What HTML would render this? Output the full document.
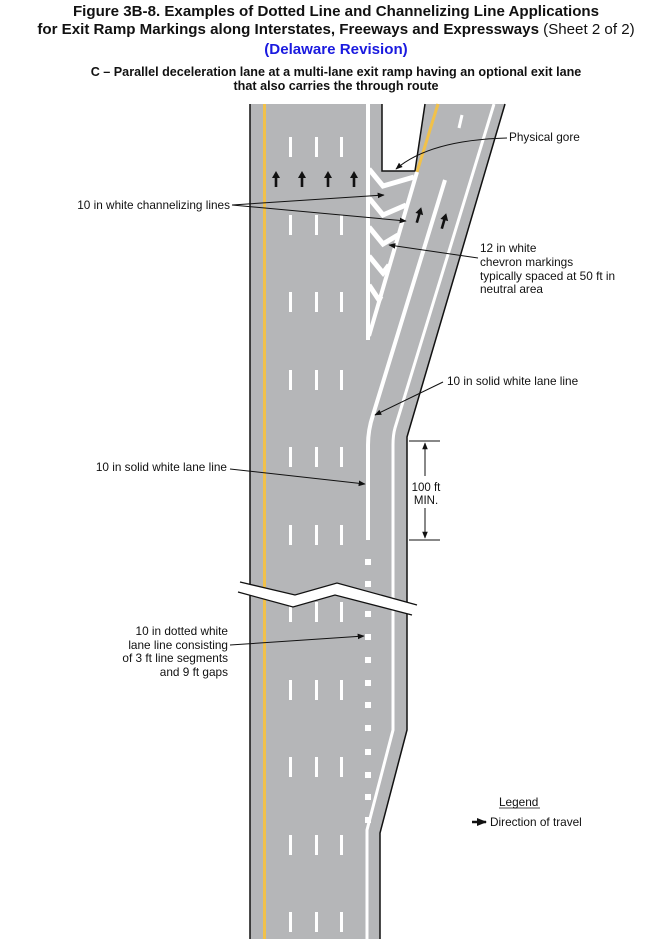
<!DOCTYPE html>
<html><head><meta charset="utf-8"><style>
html,body{margin:0;padding:0;background:#fff;}
svg{display:block;}
text{font-family:"Liberation Sans",Arial,sans-serif;fill:#111;}
</style></head><body>
<svg width="672" height="939" viewBox="0 0 672 939" xmlns="http://www.w3.org/2000/svg">
<defs>
<marker id="ah" viewBox="0 0 10 10" refX="9" refY="5" markerWidth="7" markerHeight="7" orient="auto-start-reverse"><path d="M0,1 L10,5 L0,9 z" fill="#111"/></marker>
<marker id="ah2" viewBox="0 0 10 10" refX="9" refY="5" markerWidth="4" markerHeight="4" orient="auto"><path d="M0,1 L10,5 L0,9 z" fill="#111"/></marker>
<g id="up"><rect x="-1.3" y="-3" width="2.6" height="11" fill="#111"/><path d="M-4,-1 L0,-8 L4,-1 z" fill="#111"/></g>
</defs>

<!-- titles -->
<text x="336" y="16" font-size="15.1" font-weight="bold" text-anchor="middle">Figure 3B-8.  Examples of Dotted Line and Channelizing Line Applications</text>
<text x="336" y="34" font-size="15.1" text-anchor="middle"><tspan font-weight="bold">for Exit Ramp Markings along Interstates, Freeways and Expressways</tspan> (Sheet 2 of 2)</text>
<text x="336" y="54" font-size="15.1" font-weight="bold" text-anchor="middle" style="fill:#1a1adf">(Delaware Revision)</text>
<text x="336" y="76" font-size="12.6" font-weight="bold" text-anchor="middle">C – Parallel deceleration lane at a multi-lane exit ramp having an optional exit lane</text>
<text x="336" y="90" font-size="12.6" font-weight="bold" text-anchor="middle">that also carries the through route</text>

<!-- pavement -->
<path d="M250,104 L382,104 L382,171 L415,171 L425,104 L505,104 L407,437 L407,730 L380,833 L380,939 L250,939 Z" fill="#b5b6b8"/>
<path d="M250,104 L250,939 M382,104 L382,171 L415,171 L425,104 M505,104 L407,437 L407,730 L380,833 L380,939" fill="none" stroke="#111" stroke-width="1.5"/>

<!-- yellow lines -->
<rect x="263" y="104" width="3" height="835" fill="#f1c14a"/>
<line x1="438" y1="104" x2="417" y2="172" stroke="#f1c14a" stroke-width="3"/>

<!-- main lane dashes -->
<g fill="#fff">
<g id="dr">
<rect x="289" y="137" width="3" height="20"/><rect x="315" y="137" width="3" height="20"/><rect x="340" y="137" width="3" height="20"/>
</g>
<use href="#dr" y="78"/><use href="#dr" y="155"/><use href="#dr" y="233"/><use href="#dr" y="310"/><use href="#dr" y="388"/><use href="#dr" y="465"/><use href="#dr" y="543"/><use href="#dr" y="620"/><use href="#dr" y="698"/><use href="#dr" y="775"/>
</g>

<!-- gore lines -->
<g stroke="#fff" fill="none" stroke-linejoin="miter">
<line x1="368" y1="104" x2="368" y2="340" stroke-width="4"/>
<line x1="417" y1="172" x2="369" y2="336" stroke-width="4"/>
<g stroke-width="5">
<polyline points="369,169 383,186 414,177"/>
<polyline points="369,198 383,215 406,205"/>
<polyline points="369,227 383,244 398,235"/>
<polyline points="369,256 383,273 389,265"/>
<polyline points="369,285 379,300 381,296"/>
</g>
<path d="M445,180 L373,415 Q368,430 368,445 L368,540" stroke-width="4"/>
<path d="M494,104 L395,428 Q393,435 393,445 L393,730 L367,830 L367,939" stroke-width="3"/>
<line x1="462" y1="115" x2="459" y2="128" stroke-width="3"/>
</g>

<!-- dotted line -->
<g fill="#fff">
<rect x="365" y="559" width="6" height="6"/><rect x="365" y="581" width="6" height="6"/>
<rect x="365" y="611" width="6" height="6"/><rect x="365" y="634" width="6" height="6"/><rect x="365" y="657" width="6" height="6"/><rect x="365" y="680" width="6" height="6"/><rect x="365" y="702" width="6" height="6"/><rect x="365" y="725" width="6" height="6"/><rect x="365" y="749" width="6" height="6"/><rect x="365" y="772" width="6" height="6"/><rect x="365" y="794" width="6" height="6"/><rect x="365" y="817" width="6" height="6"/>
</g>

<!-- break -->
<path d="M240,582 L295,595 L337,583 L417,605 L412,615 L335,595 L293,607 L238,592 Z" fill="#fff"/>
<polyline points="240,582 295,595 337,583 417,605" fill="none" stroke="#111" stroke-width="1.3"/>
<polyline points="238,592 293,607 335,595 412,615" fill="none" stroke="#111" stroke-width="1.3"/>

<!-- arrows -->
<use href="#up" x="276" y="179"/><use href="#up" x="302" y="179"/><use href="#up" x="328" y="179"/><use href="#up" x="354" y="179"/>
<use href="#up" transform="translate(419,215) rotate(16)"/>
<use href="#up" transform="translate(444,221) rotate(16)"/>

<!-- dimension -->
<g stroke="#111" stroke-width="1">
<line x1="409" y1="441" x2="440" y2="441"/><line x1="409" y1="540" x2="440" y2="540"/>
<line x1="425" y1="476" x2="425" y2="443" marker-end="url(#ah)"/>
<line x1="425" y1="508" x2="425" y2="538" marker-end="url(#ah)"/>
</g>
<text x="426" y="491" font-size="11.5" text-anchor="middle">100 ft</text>
<text x="426" y="504" font-size="11.5" text-anchor="middle">MIN.</text>

<!-- leaders -->
<g stroke="#111" stroke-width="1" fill="none">
<path d="M507,138 Q430,140 396,169" marker-end="url(#ah)"/>
<line x1="232" y1="205" x2="384" y2="195" marker-end="url(#ah)"/>
<line x1="232" y1="205" x2="406" y2="221" marker-end="url(#ah)"/>
<line x1="478" y1="258" x2="389" y2="245" marker-end="url(#ah)"/>
<line x1="443" y1="382" x2="375" y2="415" marker-end="url(#ah)"/>
<line x1="230" y1="469" x2="365" y2="484" marker-end="url(#ah)"/>
<line x1="230" y1="645" x2="364" y2="636" marker-end="url(#ah)"/>
<line x1="472" y1="822" x2="486" y2="822" stroke-width="2.5" marker-end="url(#ah2)"/>
</g>

<!-- labels -->
<g font-size="11.8">
<text x="509" y="141">Physical gore</text>
<text x="230" y="209" text-anchor="end">10 in white channelizing lines</text>
<text x="480" y="252">12 in white</text>
<text x="480" y="266">chevron markings</text>
<text x="480" y="280">typically spaced at 50 ft in</text>
<text x="480" y="293">neutral area</text>
<text x="447" y="385">10 in solid white lane line</text>
<text x="227" y="471" text-anchor="end">10 in solid white lane line</text>
<text x="228" y="635" text-anchor="end">10 in dotted white</text>
<text x="228" y="649" text-anchor="end">lane line consisting</text>
<text x="228" y="662" text-anchor="end">of 3 ft line segments</text>
<text x="228" y="676" text-anchor="end">and 9 ft gaps</text>
<text x="499" y="806">Legend</text>
<text x="490" y="826">Direction of travel</text>
</g>
<line x1="499" y1="808" x2="540" y2="808" stroke="#111" stroke-width="0.8"/>
</svg>
</body></html>
